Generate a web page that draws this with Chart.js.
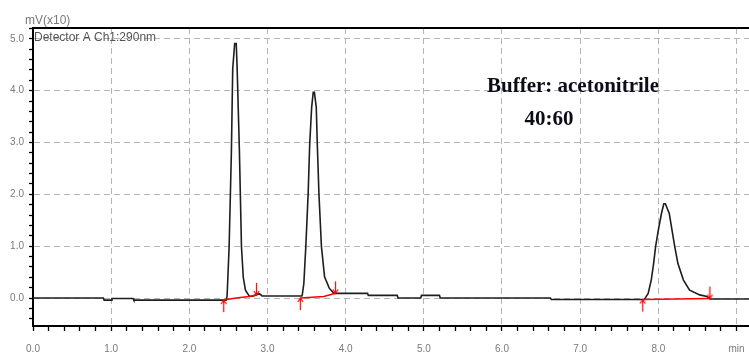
<!DOCTYPE html>
<html><head><meta charset="utf-8">
<script src="https://cdn.jsdelivr.net/npm/chart.js@4/dist/chart.umd.min.js"></script>
<style>html,body{margin:0;padding:0;background:#fff;overflow:hidden}canvas{display:block}</style>
</head><body>
<canvas id="c" width="749" height="353"></canvas>
<script>
// ---- data ----
const traceTime = [0.00,0.90,0.91,1.00,1.01,1.28,1.29,2.47,2.483,2.509,2.538,2.555,2.58,2.60,2.612,2.641,2.667,2.69,2.718,2.769,2.82,2.86,2.90,2.93,3.44,3.445,3.465,3.49,3.52,3.54,3.565,3.585,3.60,3.624,3.637,3.658,3.69,3.73,3.79,3.85,3.90,4.28,4.29,4.66,4.67,4.96,4.97,5.20,5.21,6.62,6.63,7.82,7.87,7.91,7.94,7.965,8.00,8.04,8.07,8.09,8.14,8.175,8.21,8.25,8.32,8.40,8.53,8.62,8.66,9.16];
const traceSignal = [0.00,0.00,-0.04,-0.04,-0.01,-0.01,-0.04,-0.04,0.03,0.99,2.81,4.42,4.91,4.91,4.42,2.81,0.99,0.40,0.15,0.03,0.04,0.07,0.08,0.04,0.04,0.06,0.28,0.99,2.01,2.97,3.68,3.97,3.97,3.68,2.97,2.01,0.99,0.41,0.19,0.09,0.09,0.09,0.05,0.05,0.00,0.00,0.05,0.05,0.00,0.00,-0.03,-0.03,0.09,0.35,0.67,0.99,1.31,1.63,1.82,1.82,1.63,1.31,0.99,0.67,0.35,0.15,0.06,0.03,-0.02,-0.02];
const baseline1Time = [2.44,2.60,2.76,2.87];
const baseline1Signal = [-0.04,0.00,0.03,0.06];
const baseline2Time = [3.42,3.72,3.87];
const baseline2Signal = [0.00,0.03,0.09];
const baseline3Time = [7.80,8.66];
const baseline3Signal = [-0.03,-0.01];
const peakStartTime = [2.44,3.42,7.80];
const peakStartSignal = [-0.04,0.00,-0.03];
const peakEndTime = [2.86,3.87,8.66];
const peakEndSignal = [0.06,0.09,-0.01];
const xTickLabels = ['0.0','1.0','2.0','3.0','4.0','5.0','6.0','7.0','8.0','min'];
const yTickLabels = ['0.0','1.0','2.0','3.0','4.0','5.0'];
const yUnitLabel = 'mV(x10)';
const detectorLabel = 'Detector A Ch1:290nm';
const noteLines = ['Buffer: acetonitrile','40:60'];

// ---- helpers ----
const pts = (xs, ys) => xs.map((x, i) => ({x, y: ys[i]}));
const isWhole = v => Math.abs(v - Math.round(v)) < 1e-6;

function makeArrow(up) {
  const c = document.createElement('canvas');
  c.width = 9; c.height = 26;
  const g = c.getContext('2d');
  g.strokeStyle = '#ff0000'; g.lineWidth = 1.2;
  g.beginPath();
  if (up) {
    g.moveTo(4.5, 13); g.lineTo(4.5, 25);
    g.moveTo(1.8, 17); g.lineTo(4.5, 13); g.lineTo(7.2, 17);
  } else {
    g.moveTo(4.5, 13); g.lineTo(4.5, 1);
    g.moveTo(1.8, 9); g.lineTo(4.5, 13); g.lineTo(7.2, 9);
  }
  g.stroke();
  return c;
}

const textPlugin = {
  id: 'texts',
  afterDraw(chart) {
    const ctx = chart.ctx;
    const a = chart.chartArea;
    ctx.save();
    ctx.textBaseline = 'middle';
    ctx.fillStyle = '#7a7a7a';
    ctx.font = '12px "Liberation Sans", Arial, sans-serif';
    ctx.textAlign = 'left';
    ctx.fillText(yUnitLabel, 25, 21);
    ctx.fillStyle = '#555';
    ctx.font = '12px "Liberation Sans", Arial, sans-serif';
    ctx.fillText(detectorLabel, a.left + 1, 38);
    ctx.fillStyle = '#0d0d1a';
    ctx.font = 'bold 21px "Liberation Serif", "Times New Roman", serif';
    ctx.textAlign = 'center';
    ctx.fillText(noteLines[0], 573, 87);
    ctx.fillText(noteLines[1], 549, 120);
    ctx.restore();
  }
};

const noPad = s => { s.paddingLeft = 0; s.paddingRight = 0; };
const gridDash = [6, 4];
new Chart(document.getElementById('c'), {
  type: 'line',
  data: {
    datasets: [
      {data: pts(traceTime, traceSignal), borderColor: '#1e1e1e', borderWidth: 1.6, pointRadius: 0, tension: 0, fill: false, order: 2},
      {data: pts(baseline1Time, baseline1Signal), borderColor: '#ff0000', borderWidth: 1.5, pointRadius: 0, tension: 0, fill: false, order: 1},
      {data: pts(baseline2Time, baseline2Signal), borderColor: '#ff0000', borderWidth: 1.5, pointRadius: 0, tension: 0, fill: false, order: 1},
      {data: pts(baseline3Time, baseline3Signal), borderColor: '#ff0000', borderWidth: 1.5, pointRadius: 0, tension: 0, fill: false, order: 1},
      {data: pts(peakStartTime, peakStartSignal), showLine: false, pointStyle: makeArrow(true), pointRadius: 5, order: 0, clip: false},
      {data: pts(peakEndTime, peakEndSignal), showLine: false, pointStyle: makeArrow(false), pointRadius: 5, order: 0, clip: false}
    ]
  },
  options: {
    responsive: false,
    animation: false,
    devicePixelRatio: 1,
    layout: {autoPadding: false, padding: {top: 28, left: 0, right: 0, bottom: 0}},
    plugins: {legend: {display: false}, tooltip: {enabled: false}},
    scales: {
      x: {
        type: 'linear', min: 0, max: 9.16, position: 'bottom',
        afterFit: s => { s.height = 27; noPad(s); },
        border: {display: true, color: '#000', width: 2, dash: gridDash},
        grid: {
          color: c => (c.tick && isWhole(c.tick.value) && c.tick.value > 0) ? '#b5b5b5' : 'rgba(0,0,0,0)',
          lineWidth: 1, tickColor: '#000', tickLength: 5, tickWidth: 1.3, tickBorderDash: [],
          drawOnChartArea: true, drawTicks: true
        },
        ticks: {
          stepSize: 0.2, includeBounds: false, autoSkip: false, maxRotation: 0, minRotation: 0, maxTicksLimit: 1000,
          padding: 12, color: '#7a7a7a',
          font: {family: '"Liberation Sans", Arial, sans-serif', size: 10},
          callback: v => isWhole(v) ? (xTickLabels[Math.round(v)] ?? '') : ''
        }
      },
      xTop: {
        type: 'linear', min: 0, max: 9.16, position: 'top',
        afterFit: s => { s.height = 0; noPad(s); },
        border: {display: true, color: '#000', width: 2},
        grid: {drawOnChartArea: false, drawTicks: false},
        ticks: {display: false}
      },
      y: {
        type: 'linear', min: -0.54, max: 5.21,
        afterFit: s => { s.width = 33; },
        border: {display: true, color: '#000', width: 2, dash: gridDash},
        grid: {
          color: c => (c.tick && isWhole(c.tick.value) && c.tick.value >= 0) ? '#b5b5b5' : 'rgba(0,0,0,0)',
          lineWidth: 1, tickColor: '#000', tickLength: 4, tickWidth: 1.3, tickBorderDash: [],
          drawOnChartArea: true, drawTicks: true
        },
        ticks: {
          stepSize: 0.2, includeBounds: false, autoSkip: false, maxTicksLimit: 1000,
          padding: 5, color: '#7a7a7a',
          font: {family: '"Liberation Sans", Arial, sans-serif', size: 10},
          callback: v => (isWhole(v) && v >= 0) ? (yTickLabels[Math.round(v)] ?? '') : ''
        }
      }
    }
  },
  plugins: [textPlugin]
});
</script>
</body></html>
